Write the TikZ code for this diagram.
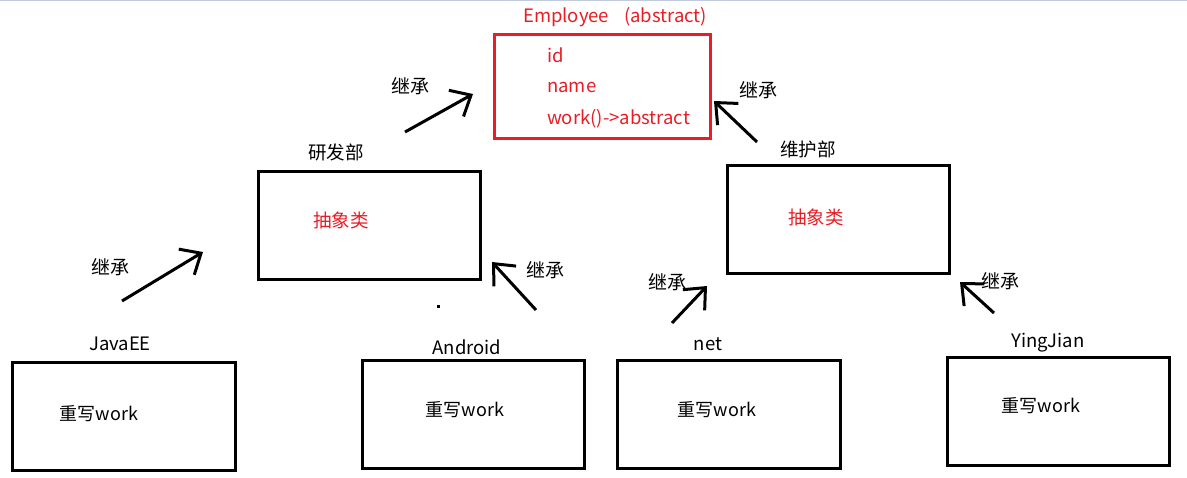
\documentclass[tikz,border=0pt]{standalone}
\usepackage{fontspec}
\setmainfont{Noto Sans CJK SC}
\usetikzlibrary{arrows.meta}
\definecolor{myred}{RGB}{232,29,37}
\definecolor{topline}{RGB}{192,204,220}
\begin{document}
\begin{tikzpicture}[x=1pt,y=-1pt,
  every node/.style={inner sep=0pt,font=\fontsize{18}{20}\selectfont},
  box/.style={draw=black,line width=3pt,minimum width=#1,minimum height=108pt},
  box/.default=222pt,
  redbox/.style={draw=myred,line width=3pt},
  redtxt/.style={text=myred,font=\fontsize{18.5}{20}\selectfont},
  lbl/.style={font=\fontsize{18.5}{20}\selectfont},
  inh/.style={font=\fontsize{19}{20}\selectfont},
  arr/.style={line width=3pt,-{Straight Barb[length=17pt,width=30pt,line width=3pt]}}]
\useasboundingbox (0,0) rectangle (1187,477);
\fill[white] (0,0) rectangle (1187,477);
\draw[topline,line width=1.5pt] (0,0.5) -- (1187,0.5);

% Employee
\node[redtxt,anchor=west] (emptitle) at (523,17) {Employee\hspace{15pt}(abstract)};
\draw[redbox] (494,34) rectangle (710,138);
\coordinate (emp) at (602,86);
\node[redtxt,anchor=west] (fid) at (547,55) {id};
\node[redtxt,anchor=west] (fname) at (547,87) {name};
\node[redtxt,anchor=west] (fwork) at (547,119) {work()->abstract};

% middle level
\node[lbl] (yfl) at (336,152) {研发部};
\node[box=222pt] (yf) at (369,225.5) {};
\node[redtxt] (yfa) at (341,220) {抽象类};
\node[lbl] (whl) at (808,149) {维护部};
\node[box=222pt] (wh) at (838,219) {};
\node[redtxt] (wha) at (816,217) {抽象类};
\fill (436.5,304.5) rectangle (439.5,307.5);

% bottom level
\node[lbl] (jl) at (120,344) {JavaEE};
\node[box=223pt] (jb) at (123.5,416) {};
\node (jt) at (99,414) {重写work};
\node[lbl] (al) at (467,347) {Android};
\node[box=222pt] (ab) at (473,414.5) {};
\node (at) at (465,410) {重写work};
\node[lbl] (nl) at (708,344) {net};
\node[box=223pt] (nb) at (728.5,414) {};
\node (nt) at (717,410) {重写work};
\node[lbl] (yl) at (1048,343) {YingJian};
\node[box=222pt] (yb) at (1058,411) {};
\node (yt) at (1041,406) {重写work};

% arrows
\coordinate (a1s) at (405,132); \coordinate (a1e) at (473,94);
\coordinate (a2s) at (757,142); \coordinate (a2e) at (714,101);
\coordinate (a3s) at (122,301); \coordinate (a3e) at (203,252);
\coordinate (a4s) at (536,310); \coordinate (a4e) at (492,262);
\coordinate (a5s) at (672,323); \coordinate (a5e) at (707,286);
\coordinate (a6s) at (994,313); \coordinate (a6e) at (960,282);
\draw[arr] (a1s) -- (a1e);
\draw[arr] (a2s) -- (a2e);
\draw[arr] (a3s) -- (a3e);
\draw[arr] (a4s) -- (a4e);
\draw[arr] (a5s) -- (a5e);
\draw[arr] (a6s) -- (a6e);
\node[inh] (i1) at (410,86) {继承};
\node[inh] (i2) at (758,90) {继承};
\node[inh] (i3) at (110,267) {继承};
\node[inh] (i4) at (545,270) {继承};
\node[inh] (i5) at (667,282) {继承};
\node[inh] (i6) at (1000,281) {继承};
\end{tikzpicture}
\end{document}
